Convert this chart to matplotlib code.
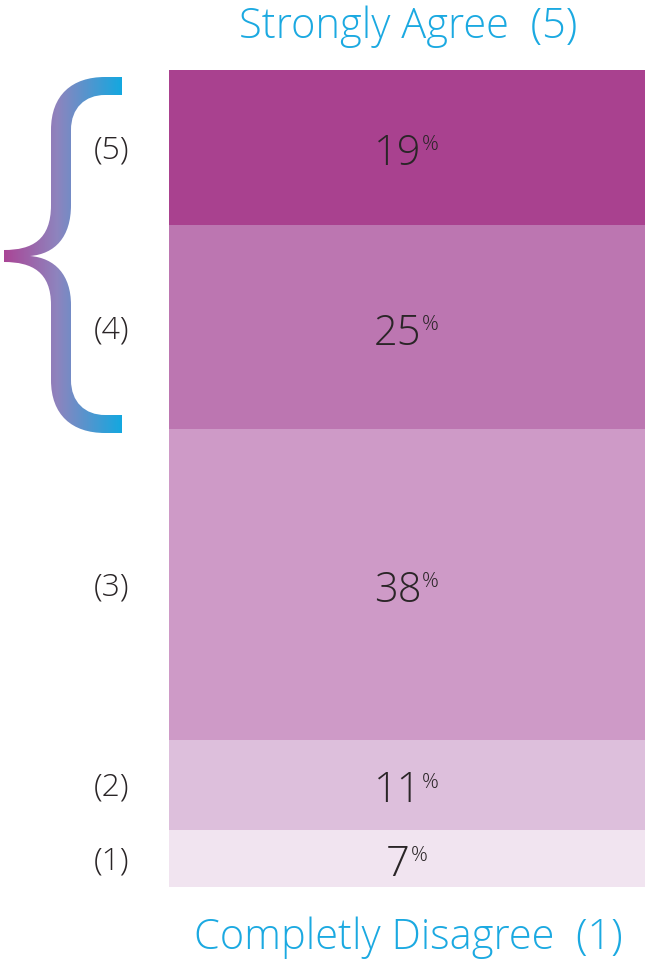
import matplotlib.pyplot as plt
import numpy as np
from matplotlib.colors import LinearSegmentedColormap
from matplotlib.patches import PathPatch
from matplotlib.path import Path

plt.rcParams["font.family"] = ["Open Sans", "DejaVu Sans"]

# answers from (1) at the bottom up to (5) at the top
levels = ["(1)", "(2)", "(3)", "(4)", "(5)"]
shares = [7, 11, 38, 25, 19]
colors = ["#F1E4F0", "#DDBFDC", "#CE9AC7", "#BC76B1", "#A9418F"]
top_label = "Strongly Agree  (5)"
bottom_label = "Completly Disagree  (1)"

text_dark = "#2A2527"
blue = "#1BA9E1"

fig = plt.figure(figsize=(6.45, 9.65), dpi=100)
ax = fig.add_axes([169 / 645, 78 / 965, 476 / 645, 817 / 965])

bottoms = np.concatenate([[0], np.cumsum(shares)[:-1]])
ax.bar(0, shares, bottom=bottoms, width=1, color=colors, linewidth=0)
ax.set_xlim(-0.5, 0.5)
ax.set_ylim(0, sum(shares))
ax.axis("off")

for lab, val, b in zip(levels, shares, bottoms):
    mid = b + val / 2
    t = ax.annotate(str(val), xy=(-0.02, mid), xytext=(0, -6),
                    textcoords="offset pixels", ha="center", va="center",
                    fontsize=30, fontweight="light", color=text_dark)
    ax.annotate("%", xy=(1, 0.93), xycoords=t, xytext=(1, 0),
                textcoords="offset pixels", ha="left", va="top",
                fontsize=15, fontweight="light", color=text_dark)
    ax.annotate(lab, xy=(-0.12, mid), xytext=(0, -3),
                textcoords="offset pixels", ha="center", va="center",
                fontsize=23, fontweight="light", color=text_dark,
                xycoords=ax.get_yaxis_transform())

fig.text(408 / 645, 1 - 27 / 965, top_label, ha="center", va="center",
         fontsize=30, fontweight="light", color=blue)
fig.text(408 / 645, 1 - 938 / 965, bottom_label, ha="center", va="center",
         fontsize=30, fontweight="light", color=blue)

# curly brace over the top two boxes, gradient filled
over = fig.add_axes([0, 0, 1, 1], facecolor="none")
over.set_xlim(0, 645)
over.set_ylim(965, 0)
over.axis("off")

M, L, C, Z = Path.MOVETO, Path.LINETO, Path.CURVE4, Path.CLOSEPOLY
verts = [
    (122, 77), (105, 77),
    (72, 77), (51, 95), (51, 130),
    (51, 205),
    (51, 240), (32, 250), (4, 250),
    (4, 262),
    (32, 262), (51, 272), (51, 305),
    (51, 380),
    (51, 415), (72, 433), (105, 433),
    (122, 433), (122, 415), (105, 415),
    (85, 415), (71, 402), (71, 380),
    (71, 305),
    (71, 275), (55, 258), (30, 256),
    (55, 254), (71, 237), (71, 205),
    (71, 130),
    (71, 108), (85, 95), (105, 95),
    (122, 95), (122, 77),
]
codes = [M, L, C, C, C, L, C, C, C, L, C, C, C, L, C, C, C, L, L, L,
         C, C, C, L, C, C, C, C, C, C, L, C, C, C, L, Z]
brace = PathPatch(Path(verts, codes), facecolor="none", edgecolor="none")
over.add_patch(brace)

cmap = LinearSegmentedColormap.from_list(
    "brace", [(0, "#AA4596"), (0.45, "#8E84BE"), (1, "#13A8E0")])
grad = np.linspace(0, 1, 256).reshape(1, -1)
im = over.imshow(grad, cmap=cmap, extent=(4, 122, 433, 77), aspect="auto")
im.set_clip_path(brace)
over.set_xlim(0, 645)
over.set_ylim(965, 0)

fig.savefig("out.png", dpi=100)
